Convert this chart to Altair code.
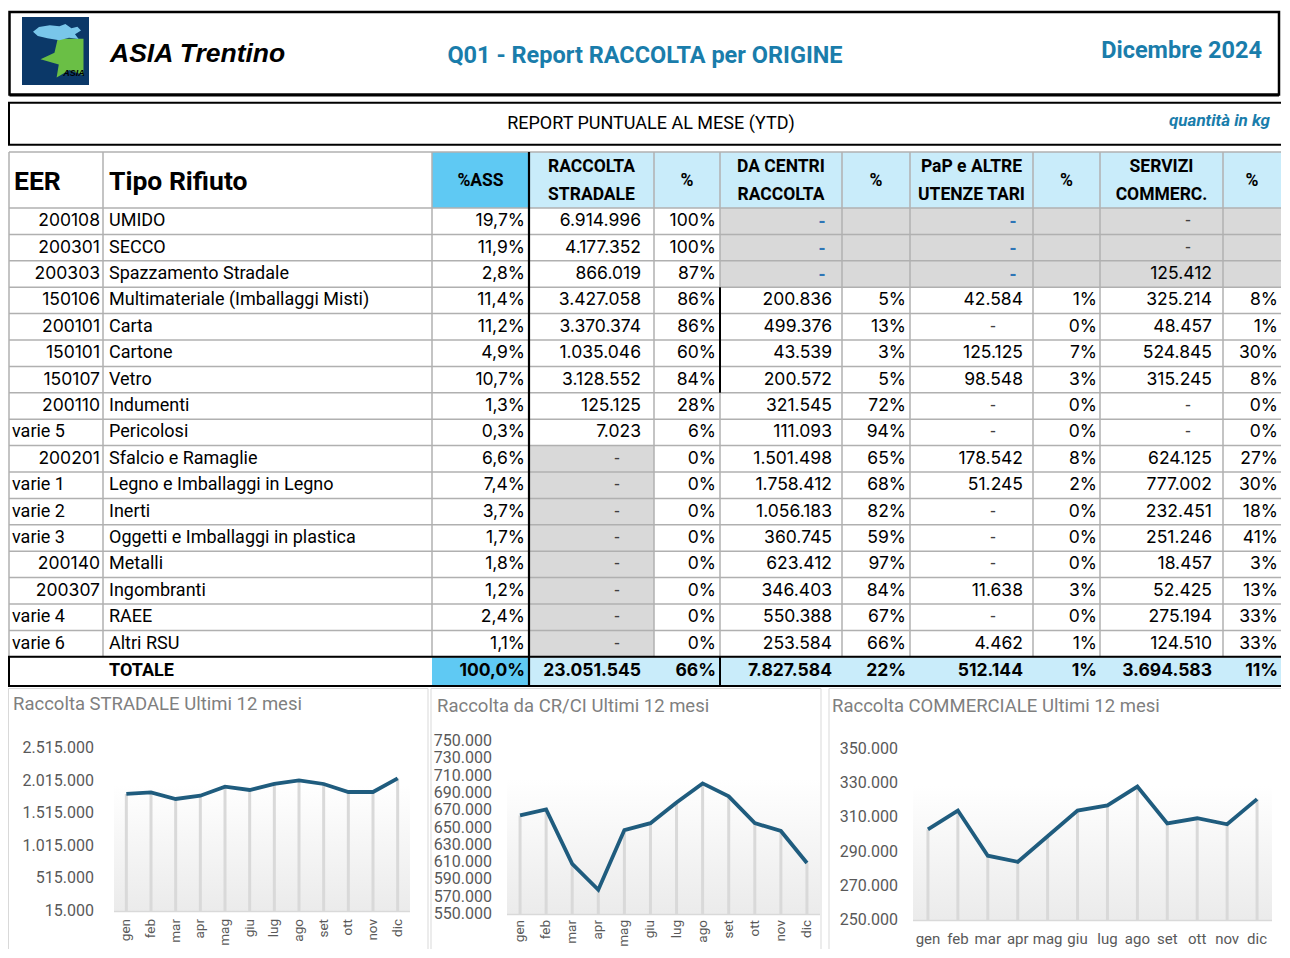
import altair as alt
import pandas as pd
from collections import defaultdict

# ------------------------------------------------------------------ data
EER = ["200108", "200301", "200303", "150106", "200101", "150101", "150107",
       "200110", "varie 5", "200201", "varie 1", "varie 2", "varie 3",
       "200140", "200307", "varie 4", "varie 6"]
TIPO = ["UMIDO", "SECCO", "Spazzamento Stradale", "Multimateriale (Imballaggi Misti)",
        "Carta", "Cartone", "Vetro", "Indumenti", "Pericolosi", "Sfalcio e Ramaglie",
        "Legno e Imballaggi in Legno", "Inerti", "Oggetti e Imballaggi in plastica",
        "Metalli", "Ingombranti", "RAEE", "Altri RSU"]
PCT_ASS = ["19,7%", "11,9%", "2,8%", "11,4%", "11,2%", "4,9%", "10,7%", "1,3%", "0,3%",
           "6,6%", "7,4%", "3,7%", "1,7%", "1,8%", "1,2%", "2,4%", "1,1%"]
STRADALE = ["6.914.996", "4.177.352", "866.019", "3.427.058", "3.370.374", "1.035.046",
            "3.128.552", "125.125", "7.023", "-", "-", "-", "-", "-", "-", "-", "-"]
PCT_STRADALE = ["100%", "100%", "87%", "86%", "86%", "60%", "84%", "28%", "6%",
                "0%", "0%", "0%", "0%", "0%", "0%", "0%", "0%"]
CENTRI = ["-", "-", "-", "200.836", "499.376", "43.539", "200.572", "321.545", "111.093",
          "1.501.498", "1.758.412", "1.056.183", "360.745", "623.412", "346.403",
          "550.388", "253.584"]
PCT_CENTRI = ["", "", "", "5%", "13%", "3%", "5%", "72%", "94%", "65%", "68%", "82%",
              "59%", "97%", "84%", "67%", "66%"]
PAP = ["-", "-", "-", "42.584", "-", "125.125", "98.548", "-", "-", "178.542", "51.245",
       "-", "-", "-", "11.638", "-", "4.462"]
PCT_PAP = ["", "", "", "1%", "0%", "7%", "3%", "0%", "0%", "8%", "2%", "0%", "0%", "0%",
           "3%", "0%", "1%"]
COMMERC = ["-", "-", "125.412", "325.214", "48.457", "524.845", "315.245", "-", "-",
           "624.125", "777.002", "232.451", "251.246", "18.457", "52.425", "275.194",
           "124.510"]
PCT_COMMERC = ["", "", "", "8%", "1%", "30%", "8%", "0%", "0%", "27%", "30%", "18%",
               "41%", "3%", "13%", "33%", "33%"]
TOTAL_ROW = ["", "TOTALE", "100,0%", "23.051.545", "66%", "7.827.584", "22%",
             "512.144", "1%", "3.694.583", "11%"]
HEADERS = ["EER", "Tipo Rifiuto", "%ASS", "RACCOLTA\nSTRADALE", "%", "DA CENTRI\nRACCOLTA",
           "%", "PaP e ALTRE\nUTENZE TARI", "%", "SERVIZI\nCOMMERC.", "%"]

MONTHS = ["gen", "feb", "mar", "apr", "mag", "giu", "lug", "ago", "set", "ott", "nov", "dic"]
STRADALE_12M = [1810000, 1835000, 1733000, 1783000, 1921000, 1871000,
                1963000, 2019000, 1963000, 1840000, 1840000, 2050000]
CRCI_12M = [664000, 671000, 608000, 578000, 647000, 655000,
            679000, 701000, 686000, 655000, 646000, 609000]
COMM_12M = [303000, 314000, 287600, 284000, 299000, 314000,
            317000, 328000, 306500, 309500, 306000, 320700]

TITLE_MAIN = "Q01 - Report RACCOLTA per ORIGINE"
COMPANY = "ASIA Trentino"
PERIOD = "Dicembre 2024"
SUBTITLE = "REPORT PUNTUALE AL MESE (YTD)"
UNITS = "quantità in kg"
PANEL_TITLES = ["Raccolta STRADALE  Ultimi 12 mesi", "Raccolta da CR/CI  Ultimi 12 mesi",
                "Raccolta COMMERCIALE  Ultimi 12 mesi"]

# ------------------------------------------------------------------ styles / layout
BLUE_TXT = "#1a7dab"
VIVID = "#5fc9f3"
LIGHT = "#c9ecfa"
GREY_FILL = "#d9d9d9"
GRID = "#b0b0b0"
LINE_COLOR = "#1f5c7e"
FONT = "Roboto"
NUMFONT = "Inter"

W, H = 1273, 941            # whole drawing (page x 8..1281, y 8..949)
PX0, PY0 = 8, 8
RIGHT = 1281

COLS = [EER, TIPO, PCT_ASS, STRADALE, PCT_STRADALE, CENTRI, PCT_CENTRI,
        PAP, PCT_PAP, COMMERC, PCT_COMMERC]
N = len(EER)
EDGES = [9, 103, 432, 529, 654, 720, 842, 910, 1033, 1100, 1223, RIGHT]
RIGHT_PAD = [3, 0, 4, 13, 4, 10, 4, 10, 3, 11, 3]
DASH_OFF = {3: 37, 5: 37, 7: 40, 9: 35}
BLUE_DASH_OFF = {5: 20, 7: 20}
GREY_CELLS = {(r, c) for r in range(3) for c in range(5, 11)} | {(r, 3) for r in range(9, N)}
HEAD_TOP, HEAD_BOT = 152, 208
ROW_H = 26.4
TOT_TOP = HEAD_BOT + N * ROW_H
TOT_BOT = 686

XS = alt.Scale(domain=[PX0, PX0 + W], nice=False, zero=False)
YS = alt.Scale(domain=[PY0, PY0 + H], nice=False, zero=False, reverse=True)
X = alt.X("x:Q", scale=XS, axis=None)
Y = alt.Y("y:Q", scale=YS, axis=None)

fills, frames, rules = [], [], []
groups = defaultdict(list)


def add_text(x, y, t, align="left", size=18, weight="normal", color="#000000",
             font=FONT, style="normal", lh=0):
    groups[(align, size, weight, font, style, lh)].append({"x": x, "y": y, "t": t, "c": color})


# header boxes
frames.append(dict(x=9.5, x2=RIGHT - 2, y=12, y2=94.5, c="#000000", w=2.5))
rules.append(dict(x=9.5, x2=RIGHT - 2, y=95.5, y2=95.5, c="#000000", w=2))
frames.append(dict(x=9, x2=RIGHT + 5, y=102.7, y2=144.8, c="#000000", w=2))
fills.append(dict(x=22, x2=89, y=17, y2=85, c="#0b3868"))
add_text(110, 54, COMPANY, size=26.5, weight="bold", font="Liberation Sans", style="italic")
add_text(645, 56, TITLE_MAIN, align="center", size=23.5, weight="bold", color=BLUE_TXT)
add_text(1262, 51, PERIOD, align="right", size=23.5, weight="bold", color=BLUE_TXT)
add_text(651, 124, SUBTITLE, align="center", size=18)
add_text(1270, 121, UNITS, align="right", size=17, weight="bold", style="italic", color=BLUE_TXT)
add_text(74, 73, "ASIA", align="center", size=9, weight="bold", font="Liberation Sans",
         style="italic")

# table fills
fills.append(dict(x=432, x2=529, y=HEAD_TOP, y2=HEAD_BOT, c=VIVID))
fills.append(dict(x=529, x2=RIGHT, y=HEAD_TOP, y2=HEAD_BOT, c=LIGHT))
fills.append(dict(x=432, x2=529, y=TOT_TOP, y2=TOT_BOT, c=VIVID))
fills.append(dict(x=529, x2=RIGHT, y=TOT_TOP, y2=TOT_BOT, c=LIGHT))
for (r, c) in GREY_CELLS:
    fills.append(dict(x=EDGES[c], x2=EDGES[c + 1], y=HEAD_BOT + r * ROW_H,
                      y2=HEAD_BOT + (r + 1) * ROW_H, c=GREY_FILL))

# grid
for k in range(N + 1):
    yy = HEAD_BOT + k * ROW_H
    rules.append(dict(x=9, x2=RIGHT, y=yy, y2=yy, c=GRID, w=1.5))
rules.append(dict(x=9, x2=RIGHT, y=HEAD_TOP, y2=HEAD_TOP, c=GRID, w=1.5))
for e in EDGES[:-1]:
    if e != 529:
        rules.append(dict(x=e, x2=e, y=HEAD_TOP, y2=TOT_TOP, c=GRID, w=1.5))
rules.append(dict(x=529, x2=529, y=HEAD_TOP, y2=TOT_BOT, c="#000000", w=2.2))
rules.append(dict(x=720, x2=720, y=HEAD_BOT + 3 * ROW_H, y2=HEAD_BOT + 7 * ROW_H,
                  c="#000000", w=2))
rules.append(dict(x=720, x2=720, y=TOT_TOP, y2=TOT_BOT, c="#000000", w=2))
frames.append(dict(x=9, x2=RIGHT + 5, y=TOT_TOP, y2=TOT_BOT, c="#000000", w=2))

# header texts
add_text(14, 182, HEADERS[0], size=26.5, weight="bold")
add_text(109, 182, HEADERS[1], size=26.5, weight="bold")
for c in range(2, 11):
    cx = (EDGES[c] + EDGES[c + 1]) / 2
    if "\n" in HEADERS[c]:
        add_text(cx, 167, HEADERS[c], align="center", size=17.5, weight="bold", lh=28)
    else:
        add_text(cx, 181, HEADERS[c], align="center", size=17.5, weight="bold")

# body texts
for r in range(N):
    yc = HEAD_BOT + (r + 0.5) * ROW_H
    for c in range(11):
        t = COLS[c][r]
        if t == "":
            continue
        if c == 0:
            if t.startswith("varie"):
                add_text(12, yc, t)
            else:
                add_text(EDGES[1] - RIGHT_PAD[0], yc, t, align="right", font=NUMFONT, size=17.5)
        elif c == 1:
            add_text(109, yc, t)
        elif t == "-":
            if (r, c) in GREY_CELLS and c in BLUE_DASH_OFF:
                add_text(EDGES[c + 1] - BLUE_DASH_OFF[c], yc + 2, t, align="center",
                         color="#2e75b6", weight="bold")
            else:
                add_text(EDGES[c + 1] - DASH_OFF[c], yc, t, align="center", color="#404040")
        else:
            add_text(EDGES[c + 1] - RIGHT_PAD[c], yc, t, align="right", font=NUMFONT,
                     size=17.5)

# total row
ty = (TOT_TOP + TOT_BOT) / 2
add_text(109, ty, TOTAL_ROW[1], weight="bold")
for c in range(2, 11):
    add_text(EDGES[c + 1] - RIGHT_PAD[c], ty, TOTAL_ROW[c], align="right", weight="bold",
             font=NUMFONT, size=17.5)

# ------------------------------------------------------------------ table / header layers
table_layers = [
    alt.Chart(pd.DataFrame(fills)).mark_rect(clip=True).encode(
        x=X, x2="x2:Q", y=Y, y2="y2:Q", color=alt.Color("c:N", scale=None)),
    alt.Chart(pd.DataFrame(rules)).mark_rule(clip=True).encode(
        x=X, x2="x2:Q", y=Y, y2="y2:Q", color=alt.Color("c:N", scale=None),
        strokeWidth=alt.StrokeWidth("w:Q", scale=None)),
    alt.Chart(pd.DataFrame(frames)).mark_rect(filled=False, clip=True).encode(
        x=X, x2="x2:Q", y=Y, y2="y2:Q", color=alt.Color("c:N", scale=None),
        strokeWidth=alt.StrokeWidth("w:Q", scale=None)),
]

FISH = ("M-1,-0.05 L-0.75,-0.25 L-0.3,-0.32 L0.1,-0.28 L0.35,-0.38 L0.6,-0.2 L0.85,-0.26 "
        "L1,-0.1 L0.75,0.05 L0.9,0.25 L0.5,0.2 L0.1,0.3 L-0.4,0.22 L-0.8,0.12 Z")
STAR = ("M-0.2,-0.85 L1,-0.85 L1,0.85 L0.35,0.6 L-0.25,0.95 L-0.15,0.35 L-1,0.1 "
        "L-0.35,-0.2 Z")
table_layers.append(alt.Chart(pd.DataFrame({"x": [62], "y": [57]})).mark_point(
    shape=STAR, filled=True, size=1849, color="#6abf45", opacity=1).encode(x=X, y=Y))
table_layers.append(alt.Chart(pd.DataFrame({"x": [57], "y": [33]})).mark_point(
    shape=FISH, filled=True, size=2304, color="#79c6ea", opacity=1).encode(x=X, y=Y))

for (align, size, weight, font, style, lh), rows in groups.items():
    kw = dict(align=align, baseline="middle", fontSize=size, fontWeight=weight,
              font=font, fontStyle=style)
    if lh:
        kw.update(lineBreak="\n", lineHeight=lh)
    table_layers.append(alt.Chart(pd.DataFrame(rows)).mark_text(**kw).encode(
        x=X, y=Y, text="t:N", color=alt.Color("c:N", scale=None)))

table_group = alt.layer(*table_layers)

# ------------------------------------------------------------------ line panels
GRADIENT = alt.Gradient(gradient="linear",
                        stops=[alt.GradientStop(color="#ffffff", offset=0),
                               alt.GradientStop(color="#ebebeb", offset=1)],
                        x1=0, x2=0, y1=0, y2=1)


def sx(p):
    return p - PX0


def sy(p):
    return p - PY0


def it_num(v):
    return f"{v:,}".replace(",", ".")


def panel(values, title, lo, hi, step, pl, pr, pt, pb, box_l, box_r, title_x, title_y,
          lab_right, rot, mlab_y, grad_top, mlab_size):
    df = pd.DataFrame({"mese": MONTHS, "v": values})
    one = pd.DataFrame({"k": [0]})
    ticks = list(range(lo, hi + 1, step))
    tdf = pd.DataFrame({"v": ticks, "lab": [it_num(t) for t in ticks]})
    xs = alt.Scale(type="point", domain=MONTHS, range=[sx(pl), sx(pr)], padding=0.5)
    ys = alt.Scale(domain=[lo, hi], range=[sy(pb), sy(pt)], nice=False, zero=False)
    x = alt.X("mese:N", scale=xs, axis=None, sort=MONTHS)
    y = alt.Y("v:Q", scale=ys, axis=None)
    bg = alt.Chart(one).mark_rect(fill=GRADIENT).encode(
        x=alt.value(sx(pl)), x2=alt.value(sx(pr)), y=alt.value(sy(grad_top)),
        y2=alt.value(sy(pb)))
    drops = alt.Chart(df).mark_rule(color="#d9d9d9", strokeWidth=3).encode(
        x=x, y=y, y2=alt.datum(lo))
    base = alt.Chart(one).mark_rule(color="#d9d9d9", strokeWidth=1.5).encode(
        x=alt.value(sx(pl)), x2=alt.value(sx(pr)), y=alt.value(sy(pb) + 0.5))
    line = alt.Chart(df).mark_line(color=LINE_COLOR, strokeWidth=3.8).encode(x=x, y=y)
    ylabs = alt.Chart(tdf).mark_text(align="right", baseline="middle", fontSize=16,
                                     font=FONT, color="#595959").encode(
        x=alt.value(sx(lab_right)), y=y, text="lab:N")
    if rot:
        mlabs = alt.Chart(df).mark_text(align="right", baseline="middle", angle=270,
                                        fontSize=mlab_size, font=FONT,
                                        color="#595959").encode(
            x=x, y=alt.value(sy(mlab_y)), text="mese:N")
    else:
        mlabs = alt.Chart(df).mark_text(align="center", baseline="middle",
                                        fontSize=mlab_size, font=FONT,
                                        color="#595959").encode(
            x=x, y=alt.value(sy(mlab_y)), text="mese:N")
    border = alt.Chart(one).mark_rect(filled=False, stroke="#d9d9d9", strokeWidth=1,
                                      clip=True).encode(
        x=alt.value(sx(box_l)), x2=alt.value(sx(box_r)), y=alt.value(sy(688.5)),
        y2=alt.value(sy(990)))
    ttl = alt.Chart(one).mark_text(align="left", baseline="middle", fontSize=18.5,
                                   font=FONT, color="#7f7f7f").encode(
        x=alt.value(sx(title_x)), y=alt.value(sy(title_y)), text=alt.value(title))
    return alt.layer(bg, drops, base, line, ylabs, mlabs, border, ttl)


p1 = panel(STRADALE_12M, PANEL_TITLES[0], 15000, 2515000, 500000,
           114, 410, 748, 911, 8.5, 428, 13, 704, 94, True, 919, 785, 13.5)
p2 = panel(CRCI_12M, PANEL_TITLES[1], 550000, 750000, 20000,
           507, 820, 741, 914, 431, 821, 437, 706, 492, True, 920, 779, 13.5)
p3 = panel(COMM_12M, PANEL_TITLES[2], 250000, 350000, 20000,
           913, 1272, 749, 920, 829, 1300, 832, 706, 898, False, 939, 786, 15)

chart = alt.layer(table_group, p1, p2, p3).resolve_scale(
    x="independent", y="independent"
).properties(width=W, height=H, padding=0, background="#ffffff").configure_view(strokeWidth=0)

chart.save("out.html", embed_options={"renderer": "svg", "actions": False})
